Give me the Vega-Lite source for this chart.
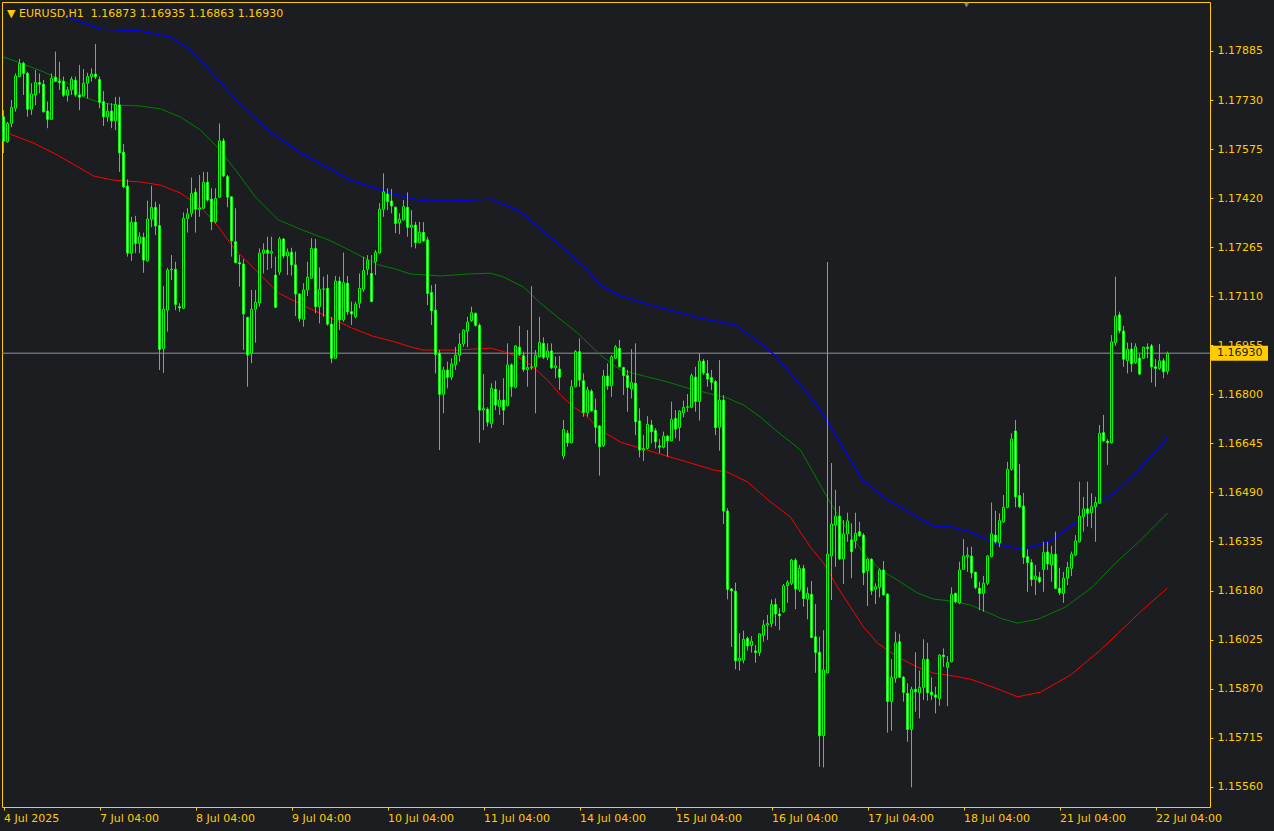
{
"$schema":"https://vega.github.io/schema/vega-lite/v6.json",
"width":1208,"height":805,
"autosize":{"type":"none"},
"padding":{"left":2,"top":2,"right":64,"bottom":24},
"background":"#1c1d21",
"title":{"text":"▼  EURUSD,H1\u00a0\u00a01.16873 1.16935 1.16863 1.16930","anchor":"start","frame":"group","orient":"top","offset":-17,"dx":5,"font":"DejaVu Sans","fontSize":11,"fontWeight":"normal","color":"#ffcc00"},
"config":{"view":{"stroke":"#ffcc00","strokeWidth":1},"axis":{"grid":false,"domain":false,"labelFont":"DejaVu Sans","labelFontSize":11,"labelColor":"#ffcc00","tickColor":"#ffcc00","tickSize":3,"labelOverlap":false,"labelBound":false,"labelFlush":false}},
"datasets":{
"bars":[
{"i":0,"o":1.17677,"h":1.17698,"l":1.17562,"c":1.17600},
{"i":1,"o":1.17598,"h":1.17661,"l":1.17595,"c":1.17656},
{"i":2,"o":1.17656,"h":1.17730,"l":1.17644,"c":1.17706},
{"i":3,"o":1.17704,"h":1.17814,"l":1.17693,"c":1.17806},
{"i":4,"o":1.17804,"h":1.17860,"l":1.17802,"c":1.17846},
{"i":5,"o":1.17846,"h":1.17851,"l":1.17746,"c":1.17814},
{"i":6,"o":1.17814,"h":1.17819,"l":1.17677,"c":1.17701},
{"i":7,"o":1.17701,"h":1.17783,"l":1.17683,"c":1.17749},
{"i":8,"o":1.17746,"h":1.17825,"l":1.17714,"c":1.17786},
{"i":9,"o":1.17785,"h":1.17814,"l":1.17751,"c":1.17780},
{"i":10,"o":1.17780,"h":1.17793,"l":1.17690,"c":1.17693},
{"i":11,"o":1.17695,"h":1.17725,"l":1.17641,"c":1.17669},
{"i":12,"o":1.17669,"h":1.17814,"l":1.17667,"c":1.17799},
{"i":13,"o":1.17802,"h":1.17883,"l":1.17788,"c":1.17789},
{"i":14,"o":1.17790,"h":1.17851,"l":1.17762,"c":1.17785},
{"i":15,"o":1.17789,"h":1.17804,"l":1.17740,"c":1.17745},
{"i":16,"o":1.17745,"h":1.17772,"l":1.17725,"c":1.17762},
{"i":17,"o":1.17762,"h":1.17804,"l":1.17746,"c":1.17796},
{"i":18,"o":1.17793,"h":1.17804,"l":1.17740,"c":1.17746},
{"i":19,"o":1.17746,"h":1.17841,"l":1.17698,"c":1.17739},
{"i":20,"o":1.17743,"h":1.17828,"l":1.17740,"c":1.17783},
{"i":21,"o":1.17783,"h":1.17816,"l":1.17735,"c":1.17804},
{"i":22,"o":1.17804,"h":1.17830,"l":1.17788,"c":1.17812},
{"i":23,"o":1.17812,"h":1.17907,"l":1.17796,"c":1.17803},
{"i":24,"o":1.17795,"h":1.17804,"l":1.17704,"c":1.17723},
{"i":25,"o":1.17725,"h":1.17758,"l":1.17648,"c":1.17677},
{"i":26,"o":1.17677,"h":1.17720,"l":1.17661,"c":1.17695},
{"i":27,"o":1.17695,"h":1.17720,"l":1.17641,"c":1.17664},
{"i":28,"o":1.17664,"h":1.17740,"l":1.17635,"c":1.17716},
{"i":29,"o":1.17714,"h":1.17740,"l":1.17503,"c":1.17563},
{"i":30,"o":1.17565,"h":1.17591,"l":1.17451,"c":1.17456},
{"i":31,"o":1.17458,"h":1.17479,"l":1.17235,"c":1.17246},
{"i":32,"o":1.17246,"h":1.17361,"l":1.17222,"c":1.17344},
{"i":33,"o":1.17344,"h":1.17364,"l":1.17246,"c":1.17277},
{"i":34,"o":1.17277,"h":1.17312,"l":1.17246,"c":1.17298},
{"i":35,"o":1.17296,"h":1.17311,"l":1.17184,"c":1.17224},
{"i":36,"o":1.17222,"h":1.17412,"l":1.17219,"c":1.17354},
{"i":37,"o":1.17353,"h":1.17459,"l":1.17328,"c":1.17391},
{"i":38,"o":1.17391,"h":1.17409,"l":1.17303,"c":1.17332},
{"i":39,"o":1.17333,"h":1.17401,"l":1.16877,"c":1.16942},
{"i":40,"o":1.16945,"h":1.17142,"l":1.16868,"c":1.17069},
{"i":41,"o":1.17066,"h":1.17200,"l":1.16998,"c":1.17193},
{"i":42,"o":1.17193,"h":1.17240,"l":1.17161,"c":1.17195},
{"i":43,"o":1.17195,"h":1.17219,"l":1.17066,"c":1.17084},
{"i":44,"o":1.17077,"h":1.17088,"l":1.17061,"c":1.17073},
{"i":45,"o":1.17072,"h":1.17375,"l":1.17070,"c":1.17356},
{"i":46,"o":1.17356,"h":1.17388,"l":1.17311,"c":1.17370},
{"i":47,"o":1.17372,"h":1.17485,"l":1.17361,"c":1.17435},
{"i":48,"o":1.17439,"h":1.17451,"l":1.17311,"c":1.17385},
{"i":49,"o":1.17385,"h":1.17493,"l":1.17361,"c":1.17389},
{"i":50,"o":1.17388,"h":1.17503,"l":1.17386,"c":1.17470},
{"i":51,"o":1.17470,"h":1.17503,"l":1.17409,"c":1.17414},
{"i":52,"o":1.17417,"h":1.17451,"l":1.17319,"c":1.17345},
{"i":53,"o":1.17345,"h":1.17451,"l":1.17340,"c":1.17419},
{"i":54,"o":1.17423,"h":1.17656,"l":1.17420,"c":1.17601},
{"i":55,"o":1.17601,"h":1.17609,"l":1.17486,"c":1.17490},
{"i":56,"o":1.17488,"h":1.17493,"l":1.17391,"c":1.17423},
{"i":57,"o":1.17424,"h":1.17426,"l":1.17235,"c":1.17285},
{"i":58,"o":1.17282,"h":1.17388,"l":1.17214,"c":1.17216},
{"i":59,"o":1.17216,"h":1.17240,"l":1.17140,"c":1.17212},
{"i":60,"o":1.17212,"h":1.17227,"l":1.16940,"c":1.17054},
{"i":61,"o":1.17043,"h":1.17045,"l":1.16824,"c":1.16924},
{"i":62,"o":1.16930,"h":1.17130,"l":1.16898,"c":1.17069},
{"i":63,"o":1.17069,"h":1.17130,"l":1.16963,"c":1.17091},
{"i":64,"o":1.17089,"h":1.17261,"l":1.17077,"c":1.17246},
{"i":65,"o":1.17246,"h":1.17277,"l":1.17182,"c":1.17256},
{"i":66,"o":1.17256,"h":1.17298,"l":1.17193,"c":1.17246},
{"i":67,"o":1.17246,"h":1.17298,"l":1.17198,"c":1.17251},
{"i":68,"o":1.17177,"h":1.17235,"l":1.17073,"c":1.17075},
{"i":69,"o":1.17186,"h":1.17298,"l":1.17177,"c":1.17291},
{"i":70,"o":1.17291,"h":1.17293,"l":1.17230,"c":1.17237},
{"i":71,"o":1.17237,"h":1.17261,"l":1.17177,"c":1.17250},
{"i":72,"o":1.17249,"h":1.17263,"l":1.17175,"c":1.17209},
{"i":73,"o":1.17209,"h":1.17251,"l":1.17047,"c":1.17117},
{"i":74,"o":1.17117,"h":1.17119,"l":1.17029,"c":1.17040},
{"i":75,"o":1.17037,"h":1.17151,"l":1.17014,"c":1.17130},
{"i":76,"o":1.17130,"h":1.17219,"l":1.17111,"c":1.17170},
{"i":77,"o":1.17167,"h":1.17293,"l":1.17164,"c":1.17261},
{"i":78,"o":1.17261,"h":1.17291,"l":1.17056,"c":1.17077},
{"i":79,"o":1.17077,"h":1.17201,"l":1.17024,"c":1.17132},
{"i":80,"o":1.17132,"h":1.17172,"l":1.17045,"c":1.17133},
{"i":81,"o":1.17135,"h":1.17179,"l":1.17017,"c":1.17022},
{"i":82,"o":1.17022,"h":1.17045,"l":1.16898,"c":1.16914},
{"i":83,"o":1.16914,"h":1.17174,"l":1.16912,"c":1.17158},
{"i":84,"o":1.17158,"h":1.17172,"l":1.17003,"c":1.17035},
{"i":85,"o":1.17035,"h":1.17248,"l":1.17029,"c":1.17153},
{"i":86,"o":1.17151,"h":1.17174,"l":1.17051,"c":1.17061},
{"i":87,"o":1.17061,"h":1.17093,"l":1.17019,"c":1.17054},
{"i":88,"o":1.17045,"h":1.17093,"l":1.17040,"c":1.17085},
{"i":89,"o":1.17088,"h":1.17182,"l":1.17072,"c":1.17135},
{"i":90,"o":1.17132,"h":1.17235,"l":1.17124,"c":1.17191},
{"i":91,"o":1.17195,"h":1.17240,"l":1.17177,"c":1.17224},
{"i":92,"o":1.17182,"h":1.17240,"l":1.17091,"c":1.17093},
{"i":93,"o":1.17219,"h":1.17256,"l":1.17177,"c":1.17249},
{"i":94,"o":1.17247,"h":1.17404,"l":1.17244,"c":1.17385},
{"i":95,"o":1.17385,"h":1.17498,"l":1.17361,"c":1.17440},
{"i":96,"o":1.17433,"h":1.17451,"l":1.17382,"c":1.17409},
{"i":97,"o":1.17411,"h":1.17449,"l":1.17372,"c":1.17395},
{"i":98,"o":1.17391,"h":1.17393,"l":1.17309,"c":1.17340},
{"i":99,"o":1.17342,"h":1.17372,"l":1.17306,"c":1.17353},
{"i":100,"o":1.17351,"h":1.17414,"l":1.17349,"c":1.17393},
{"i":101,"o":1.17391,"h":1.17438,"l":1.17298,"c":1.17328},
{"i":102,"o":1.17328,"h":1.17382,"l":1.17265,"c":1.17335},
{"i":103,"o":1.17335,"h":1.17345,"l":1.17261,"c":1.17279},
{"i":104,"o":1.17279,"h":1.17345,"l":1.17277,"c":1.17312},
{"i":105,"o":1.17312,"h":1.17344,"l":1.17282,"c":1.17285},
{"i":106,"o":1.17288,"h":1.17298,"l":1.17082,"c":1.17119},
{"i":107,"o":1.17122,"h":1.17145,"l":1.17019,"c":1.17064},
{"i":108,"o":1.17066,"h":1.17149,"l":1.16866,"c":1.16926},
{"i":109,"o":1.16930,"h":1.16940,"l":1.16624,"c":1.16800},
{"i":110,"o":1.16800,"h":1.16887,"l":1.16740,"c":1.16877},
{"i":111,"o":1.16877,"h":1.16903,"l":1.16819,"c":1.16854},
{"i":112,"o":1.16854,"h":1.16914,"l":1.16845,"c":1.16896},
{"i":113,"o":1.16893,"h":1.16950,"l":1.16877,"c":1.16924},
{"i":114,"o":1.16924,"h":1.16993,"l":1.16903,"c":1.16959},
{"i":115,"o":1.16959,"h":1.17005,"l":1.16950,"c":1.17003},
{"i":116,"o":1.17000,"h":1.17045,"l":1.16949,"c":1.17028},
{"i":117,"o":1.17033,"h":1.17077,"l":1.17029,"c":1.17058},
{"i":118,"o":1.17056,"h":1.17058,"l":1.17014,"c":1.17018},
{"i":119,"o":1.17018,"h":1.17024,"l":1.16647,"c":1.16750},
{"i":120,"o":1.16750,"h":1.16864,"l":1.16687,"c":1.16755},
{"i":121,"o":1.16753,"h":1.16759,"l":1.16698,"c":1.16712},
{"i":122,"o":1.16708,"h":1.16835,"l":1.16693,"c":1.16819},
{"i":123,"o":1.16816,"h":1.16843,"l":1.16750,"c":1.16766},
{"i":124,"o":1.16761,"h":1.16814,"l":1.16735,"c":1.16782},
{"i":125,"o":1.16782,"h":1.16851,"l":1.16703,"c":1.16750},
{"i":126,"o":1.16764,"h":1.16961,"l":1.16762,"c":1.16893},
{"i":127,"o":1.16893,"h":1.16898,"l":1.16792,"c":1.16824},
{"i":128,"o":1.16822,"h":1.16956,"l":1.16819,"c":1.16953},
{"i":129,"o":1.16949,"h":1.17016,"l":1.16921,"c":1.16926},
{"i":130,"o":1.16922,"h":1.16935,"l":1.16871,"c":1.16879},
{"i":131,"o":1.16879,"h":1.17003,"l":1.16824,"c":1.16885},
{"i":132,"o":1.16884,"h":1.17142,"l":1.16877,"c":1.16887},
{"i":133,"o":1.16887,"h":1.16940,"l":1.16740,"c":1.16924},
{"i":134,"o":1.16919,"h":1.17045,"l":1.16917,"c":1.16964},
{"i":135,"o":1.16961,"h":1.16980,"l":1.16911,"c":1.16917},
{"i":136,"o":1.16917,"h":1.16961,"l":1.16908,"c":1.16937},
{"i":137,"o":1.16937,"h":1.16961,"l":1.16880,"c":1.16884},
{"i":138,"o":1.16884,"h":1.16919,"l":1.16851,"c":1.16890},
{"i":139,"o":1.16880,"h":1.16921,"l":1.16814,"c":1.16854},
{"i":140,"o":1.16605,"h":1.16719,"l":1.16595,"c":1.16689},
{"i":141,"o":1.16677,"h":1.16687,"l":1.16634,"c":1.16647},
{"i":142,"o":1.16647,"h":1.16845,"l":1.16645,"c":1.16824},
{"i":143,"o":1.16824,"h":1.16940,"l":1.16822,"c":1.16935},
{"i":144,"o":1.16935,"h":1.16977,"l":1.16824,"c":1.16845},
{"i":145,"o":1.16843,"h":1.16866,"l":1.16729,"c":1.16742},
{"i":146,"o":1.16742,"h":1.16824,"l":1.16729,"c":1.16814},
{"i":147,"o":1.16810,"h":1.16816,"l":1.16745,"c":1.16748},
{"i":148,"o":1.16750,"h":1.16787,"l":1.16645,"c":1.16696},
{"i":149,"o":1.16700,"h":1.16703,"l":1.16543,"c":1.16634},
{"i":150,"o":1.16638,"h":1.16877,"l":1.16634,"c":1.16858},
{"i":151,"o":1.16858,"h":1.16898,"l":1.16814,"c":1.16827},
{"i":152,"o":1.16827,"h":1.16924,"l":1.16792,"c":1.16919},
{"i":153,"o":1.16914,"h":1.16956,"l":1.16911,"c":1.16950},
{"i":154,"o":1.16945,"h":1.16972,"l":1.16885,"c":1.16887},
{"i":155,"o":1.16885,"h":1.16887,"l":1.16798,"c":1.16859},
{"i":156,"o":1.16859,"h":1.16877,"l":1.16745,"c":1.16822},
{"i":157,"o":1.16817,"h":1.16943,"l":1.16787,"c":1.16837},
{"i":158,"o":1.16835,"h":1.16961,"l":1.16671,"c":1.16713},
{"i":159,"o":1.16716,"h":1.16756,"l":1.16601,"c":1.16624},
{"i":160,"o":1.16624,"h":1.16671,"l":1.16590,"c":1.16629},
{"i":161,"o":1.16629,"h":1.16731,"l":1.16626,"c":1.16705},
{"i":162,"o":1.16703,"h":1.16719,"l":1.16645,"c":1.16682},
{"i":163,"o":1.16685,"h":1.16693,"l":1.16629,"c":1.16650},
{"i":164,"o":1.16637,"h":1.16658,"l":1.16614,"c":1.16633},
{"i":165,"o":1.16633,"h":1.16682,"l":1.16629,"c":1.16668},
{"i":166,"o":1.16668,"h":1.16671,"l":1.16603,"c":1.16653},
{"i":167,"o":1.16653,"h":1.16777,"l":1.16651,"c":1.16721},
{"i":168,"o":1.16724,"h":1.16750,"l":1.16661,"c":1.16690},
{"i":169,"o":1.16695,"h":1.16750,"l":1.16653,"c":1.16747},
{"i":170,"o":1.16742,"h":1.16780,"l":1.16727,"c":1.16759},
{"i":171,"o":1.16759,"h":1.16801,"l":1.16745,"c":1.16761},
{"i":172,"o":1.16759,"h":1.16866,"l":1.16756,"c":1.16859},
{"i":173,"o":1.16854,"h":1.16887,"l":1.16745,"c":1.16777},
{"i":174,"o":1.16777,"h":1.16930,"l":1.16717,"c":1.16905},
{"i":175,"o":1.16905,"h":1.16912,"l":1.16861,"c":1.16868},
{"i":176,"o":1.16866,"h":1.16908,"l":1.16824,"c":1.16848},
{"i":177,"o":1.16853,"h":1.16877,"l":1.16814,"c":1.16838},
{"i":178,"o":1.16840,"h":1.16845,"l":1.16671,"c":1.16695},
{"i":179,"o":1.16696,"h":1.16908,"l":1.16622,"c":1.16782},
{"i":180,"o":1.16782,"h":1.16798,"l":1.16390,"c":1.16431},
{"i":181,"o":1.16431,"h":1.16440,"l":1.16152,"c":1.16184},
{"i":182,"o":1.16185,"h":1.16188,"l":1.16002,"c":1.16179},
{"i":183,"o":1.16178,"h":1.16205,"l":1.15931,"c":1.15958},
{"i":184,"o":1.15958,"h":1.16045,"l":1.15927,"c":1.15966},
{"i":185,"o":1.15960,"h":1.16053,"l":1.15950,"c":1.16026},
{"i":186,"o":1.16029,"h":1.16034,"l":1.15990,"c":1.16005},
{"i":187,"o":1.16006,"h":1.16036,"l":1.15984,"c":1.16020},
{"i":188,"o":1.15989,"h":1.16008,"l":1.15952,"c":1.15984},
{"i":189,"o":1.15984,"h":1.16045,"l":1.15973,"c":1.16043},
{"i":190,"o":1.16039,"h":1.16087,"l":1.16018,"c":1.16071},
{"i":191,"o":1.16071,"h":1.16103,"l":1.16024,"c":1.16076},
{"i":192,"o":1.16076,"h":1.16152,"l":1.16064,"c":1.16136},
{"i":193,"o":1.16136,"h":1.16155,"l":1.16068,"c":1.16106},
{"i":194,"o":1.16106,"h":1.16124,"l":1.16055,"c":1.16100},
{"i":195,"o":1.16113,"h":1.16201,"l":1.16110,"c":1.16195},
{"i":196,"o":1.16195,"h":1.16213,"l":1.16141,"c":1.16206},
{"i":197,"o":1.16203,"h":1.16280,"l":1.16197,"c":1.16276},
{"i":198,"o":1.16276,"h":1.16282,"l":1.16121,"c":1.16185},
{"i":199,"o":1.16182,"h":1.16261,"l":1.16176,"c":1.16250},
{"i":200,"o":1.16250,"h":1.16261,"l":1.16129,"c":1.16155},
{"i":201,"o":1.16153,"h":1.16190,"l":1.16089,"c":1.16171},
{"i":202,"o":1.16168,"h":1.16210,"l":1.16029,"c":1.16032},
{"i":203,"o":1.16034,"h":1.16137,"l":1.15920,"c":1.15984},
{"i":204,"o":1.15985,"h":1.16034,"l":1.15623,"c":1.15721},
{"i":205,"o":1.15721,"h":1.16055,"l":1.15621,"c":1.15929},
{"i":206,"o":1.15920,"h":1.17218,"l":1.15918,"c":1.16295},
{"i":207,"o":1.16289,"h":1.16583,"l":1.16150,"c":1.16390},
{"i":208,"o":1.16387,"h":1.16498,"l":1.16255,"c":1.16415},
{"i":209,"o":1.16415,"h":1.16447,"l":1.16276,"c":1.16280},
{"i":210,"o":1.16280,"h":1.16403,"l":1.16201,"c":1.16359},
{"i":211,"o":1.16359,"h":1.16426,"l":1.16334,"c":1.16400},
{"i":212,"o":1.16340,"h":1.16392,"l":1.16219,"c":1.16303},
{"i":213,"o":1.16337,"h":1.16426,"l":1.16313,"c":1.16361},
{"i":214,"o":1.16366,"h":1.16397,"l":1.16350,"c":1.16353},
{"i":215,"o":1.16355,"h":1.16361,"l":1.16197,"c":1.16236},
{"i":216,"o":1.16243,"h":1.16282,"l":1.16131,"c":1.16279},
{"i":217,"o":1.16279,"h":1.16282,"l":1.16166,"c":1.16179},
{"i":218,"o":1.16184,"h":1.16203,"l":1.16137,"c":1.16192},
{"i":219,"o":1.16190,"h":1.16250,"l":1.16158,"c":1.16245},
{"i":220,"o":1.16245,"h":1.16273,"l":1.16164,"c":1.16166},
{"i":221,"o":1.16169,"h":1.16171,"l":1.15731,"c":1.15829},
{"i":222,"o":1.15829,"h":1.15963,"l":1.15737,"c":1.15906},
{"i":223,"o":1.15903,"h":1.16050,"l":1.15889,"c":1.16015},
{"i":224,"o":1.16018,"h":1.16043,"l":1.15904,"c":1.15906},
{"i":225,"o":1.15906,"h":1.15910,"l":1.15829,"c":1.15858},
{"i":226,"o":1.15855,"h":1.15887,"l":1.15702,"c":1.15741},
{"i":227,"o":1.15741,"h":1.15876,"l":1.15558,"c":1.15868},
{"i":228,"o":1.15868,"h":1.15985,"l":1.15797,"c":1.15860},
{"i":229,"o":1.15857,"h":1.15927,"l":1.15776,"c":1.15874},
{"i":230,"o":1.15874,"h":1.16026,"l":1.15834,"c":1.15963},
{"i":231,"o":1.15963,"h":1.16015,"l":1.15832,"c":1.15857},
{"i":232,"o":1.15859,"h":1.15906,"l":1.15834,"c":1.15850},
{"i":233,"o":1.15850,"h":1.15876,"l":1.15792,"c":1.15843},
{"i":234,"o":1.15839,"h":1.15979,"l":1.15816,"c":1.15976},
{"i":235,"o":1.15976,"h":1.15997,"l":1.15939,"c":1.15971},
{"i":236,"o":1.15937,"h":1.15973,"l":1.15815,"c":1.15953},
{"i":237,"o":1.15955,"h":1.16190,"l":1.15953,"c":1.16168},
{"i":238,"o":1.16171,"h":1.16173,"l":1.16140,"c":1.16145},
{"i":239,"o":1.16141,"h":1.16271,"l":1.16137,"c":1.16245},
{"i":240,"o":1.16247,"h":1.16342,"l":1.16245,"c":1.16289},
{"i":241,"o":1.16287,"h":1.16317,"l":1.16239,"c":1.16292},
{"i":242,"o":1.16289,"h":1.16318,"l":1.16219,"c":1.16236},
{"i":243,"o":1.16238,"h":1.16239,"l":1.16184,"c":1.16190},
{"i":244,"o":1.16187,"h":1.16208,"l":1.16118,"c":1.16171},
{"i":245,"o":1.16171,"h":1.16226,"l":1.16113,"c":1.16203},
{"i":246,"o":1.16203,"h":1.16292,"l":1.16197,"c":1.16289},
{"i":247,"o":1.16287,"h":1.16458,"l":1.16285,"c":1.16359},
{"i":248,"o":1.16355,"h":1.16432,"l":1.16329,"c":1.16334},
{"i":249,"o":1.16331,"h":1.16424,"l":1.16317,"c":1.16401},
{"i":250,"o":1.16397,"h":1.16482,"l":1.16394,"c":1.16443},
{"i":251,"o":1.16443,"h":1.16587,"l":1.16440,"c":1.16563},
{"i":252,"o":1.16563,"h":1.16677,"l":1.16559,"c":1.16659},
{"i":253,"o":1.16684,"h":1.16719,"l":1.16443,"c":1.16476},
{"i":254,"o":1.16480,"h":1.16580,"l":1.16440,"c":1.16445},
{"i":255,"o":1.16447,"h":1.16489,"l":1.16264,"c":1.16285},
{"i":256,"o":1.16287,"h":1.16310,"l":1.16176,"c":1.16268},
{"i":257,"o":1.16268,"h":1.16279,"l":1.16194,"c":1.16215},
{"i":258,"o":1.16215,"h":1.16261,"l":1.16166,"c":1.16226},
{"i":259,"o":1.16222,"h":1.16239,"l":1.16203,"c":1.16208},
{"i":260,"o":1.16247,"h":1.16334,"l":1.16176,"c":1.16300},
{"i":261,"o":1.16302,"h":1.16334,"l":1.16245,"c":1.16264},
{"i":262,"o":1.16261,"h":1.16321,"l":1.16208,"c":1.16295},
{"i":263,"o":1.16295,"h":1.16366,"l":1.16184,"c":1.16187},
{"i":264,"o":1.16187,"h":1.16252,"l":1.16166,"c":1.16173},
{"i":265,"o":1.16171,"h":1.16239,"l":1.16141,"c":1.16219},
{"i":266,"o":1.16219,"h":1.16271,"l":1.16197,"c":1.16253},
{"i":267,"o":1.16250,"h":1.16303,"l":1.16226,"c":1.16295},
{"i":268,"o":1.16292,"h":1.16355,"l":1.16289,"c":1.16337},
{"i":269,"o":1.16334,"h":1.16524,"l":1.16332,"c":1.16415},
{"i":270,"o":1.16413,"h":1.16476,"l":1.16366,"c":1.16438},
{"i":271,"o":1.16438,"h":1.16524,"l":1.16382,"c":1.16424},
{"i":272,"o":1.16426,"h":1.16487,"l":1.16377,"c":1.16445},
{"i":273,"o":1.16445,"h":1.16476,"l":1.16334,"c":1.16458},
{"i":274,"o":1.16456,"h":1.16703,"l":1.16454,"c":1.16677},
{"i":275,"o":1.16679,"h":1.16735,"l":1.16650,"c":1.16653},
{"i":276,"o":1.16652,"h":1.16658,"l":1.16577,"c":1.16647},
{"i":277,"o":1.16647,"h":1.16987,"l":1.16645,"c":1.16966},
{"i":278,"o":1.16963,"h":1.17172,"l":1.16953,"c":1.17047},
{"i":279,"o":1.17051,"h":1.17061,"l":1.16993,"c":1.17001},
{"i":280,"o":1.17000,"h":1.17016,"l":1.16887,"c":1.16911},
{"i":281,"o":1.16906,"h":1.16963,"l":1.16866,"c":1.16943},
{"i":282,"o":1.16943,"h":1.16963,"l":1.16871,"c":1.16896},
{"i":283,"o":1.16900,"h":1.16961,"l":1.16896,"c":1.16950},
{"i":284,"o":1.16914,"h":1.16927,"l":1.16861,"c":1.16864},
{"i":285,"o":1.16914,"h":1.16950,"l":1.16912,"c":1.16949},
{"i":286,"o":1.16949,"h":1.16961,"l":1.16914,"c":1.16945},
{"i":287,"o":1.16953,"h":1.16959,"l":1.16837,"c":1.16887},
{"i":288,"o":1.16887,"h":1.16911,"l":1.16824,"c":1.16882},
{"i":289,"o":1.16882,"h":1.16959,"l":1.16877,"c":1.16906},
{"i":290,"o":1.16906,"h":1.16914,"l":1.16851,"c":1.16871},
{"i":291,"o":1.16873,"h":1.16935,"l":1.16863,"c":1.16930}
],
"blue":[
{"i":15.5,"p":1.17995},{"i":24.25,"p":1.17954},{"i":34.25,"p":1.17948},{"i":41.75,"p":1.17929},{"i":46.75,"p":1.17888},{"i":49.25,"p":1.17856},{"i":57.5,"p":1.17739},{"i":66,"p":1.17635},{"i":74.25,"p":1.17563},{"i":86.75,"p":1.17477},{"i":96.75,"p":1.17436},{"i":104.75,"p":1.17411},{"i":113.5,"p":1.17411},{"i":121.75,"p":1.17417},{"i":128.5,"p":1.17382},{"i":131.75,"p":1.17351},{"i":135,"p":1.17313},{"i":138.5,"p":1.17278},{"i":141.75,"p":1.17240},{"i":145.5,"p":1.17199},{"i":149.25,"p":1.17145},{"i":154.25,"p":1.17111},{"i":161.75,"p":1.17082},{"i":174.25,"p":1.17041},{"i":183,"p":1.17019},{"i":189.25,"p":1.16962},{"i":193,"p":1.16921},{"i":199.25,"p":1.16829},{"i":204.25,"p":1.16750},{"i":211.75,"p":1.16592},{"i":214.75,"p":1.16529},{"i":221,"p":1.16466},{"i":226.75,"p":1.16425},{"i":232.5,"p":1.16384},{"i":236,"p":1.16384},{"i":241.75,"p":1.16365},{"i":248.75,"p":1.16324},{"i":254.75,"p":1.16311},{"i":261.25,"p":1.16333},{"i":268,"p":1.16393},{"i":273.75,"p":1.16456},{"i":278,"p":1.16491},{"i":283.75,"p":1.16561},{"i":291,"p":1.16662}
],
"green":[
{"i":0,"p":1.17866},{"i":4.25,"p":1.17847},{"i":10,"p":1.17819},{"i":16,"p":1.17784},{"i":20,"p":1.17740},{"i":24.25,"p":1.17721},{"i":28.5,"p":1.17714},{"i":34.25,"p":1.17711},{"i":39.25,"p":1.17702},{"i":44.25,"p":1.17676},{"i":49.25,"p":1.17635},{"i":53.5,"p":1.17581},{"i":58,"p":1.17509},{"i":63,"p":1.17423},{"i":68.75,"p":1.17351},{"i":74.75,"p":1.17319},{"i":81.25,"p":1.17288},{"i":85.5,"p":1.17262},{"i":89.75,"p":1.17234},{"i":93.75,"p":1.17209},{"i":98,"p":1.17196},{"i":101.75,"p":1.17180},{"i":109.25,"p":1.17174},{"i":116,"p":1.17180},{"i":121.75,"p":1.17183},{"i":125,"p":1.17171},{"i":130,"p":1.17139},{"i":134.25,"p":1.17088},{"i":138.5,"p":1.17044},{"i":143.5,"p":1.16994},{"i":149.25,"p":1.16924},{"i":154.25,"p":1.16877},{"i":161,"p":1.16855},{"i":166,"p":1.16839},{"i":171,"p":1.16820},{"i":176,"p":1.16804},{"i":181,"p":1.16788},{"i":185,"p":1.16766},{"i":189.25,"p":1.16728},{"i":193,"p":1.16687},{"i":199.25,"p":1.16624},{"i":203.5,"p":1.16529},{"i":206.75,"p":1.16457},{"i":211,"p":1.16371},{"i":215,"p":1.16298},{"i":219.25,"p":1.16245},{"i":223.5,"p":1.16213},{"i":228.5,"p":1.16172},{"i":232.5,"p":1.16153},{"i":237.5,"p":1.16146},{"i":241.75,"p":1.16134},{"i":244.75,"p":1.16118},{"i":249.75,"p":1.16090},{"i":253.5,"p":1.16077},{"i":258.75,"p":1.16090},{"i":265.5,"p":1.16128},{"i":272.25,"p":1.16191},{"i":278,"p":1.16267},{"i":283.75,"p":1.16333},{"i":291,"p":1.16425}
],
"red":[
{"i":1.5,"p":1.17623},{"i":7.5,"p":1.17594},{"i":13.5,"p":1.17556},{"i":22.5,"p":1.17490},{"i":27.5,"p":1.17477},{"i":34.25,"p":1.17471},{"i":39.25,"p":1.17461},{"i":44.25,"p":1.17436},{"i":49.25,"p":1.17392},{"i":53,"p":1.17341},{"i":58,"p":1.17256},{"i":63,"p":1.17193},{"i":68.75,"p":1.17120},{"i":74.75,"p":1.17082},{"i":81.25,"p":1.17044},{"i":87.25,"p":1.17009},{"i":92.25,"p":1.16984},{"i":98,"p":1.16965},{"i":101.75,"p":1.16950},{"i":105,"p":1.16940},{"i":113.5,"p":1.16940},{"i":121.75,"p":1.16946},{"i":125,"p":1.16935},{"i":128.5,"p":1.16919},{"i":131.75,"p":1.16893},{"i":136,"p":1.16845},{"i":139.25,"p":1.16798},{"i":142.5,"p":1.16760},{"i":145.5,"p":1.16735},{"i":149.25,"p":1.16687},{"i":154.25,"p":1.16649},{"i":159.25,"p":1.16630},{"i":165,"p":1.16608},{"i":171,"p":1.16586},{"i":177.5,"p":1.16561},{"i":181,"p":1.16554},{"i":186,"p":1.16523},{"i":191.75,"p":1.16460},{"i":196.75,"p":1.16412},{"i":201.75,"p":1.16317},{"i":205,"p":1.16267},{"i":208.5,"p":1.16191},{"i":211.75,"p":1.16128},{"i":215,"p":1.16065},{"i":218.5,"p":1.16014},{"i":223.5,"p":1.15970},{"i":228.5,"p":1.15938},{"i":232.5,"p":1.15919},{"i":237.5,"p":1.15910},{"i":241.75,"p":1.15900},{"i":249.25,"p":1.15866},{"i":253.5,"p":1.15844},{"i":259.25,"p":1.15859},{"i":266.75,"p":1.15913},{"i":274.25,"p":1.15992},{"i":284.25,"p":1.16113},{"i":291,"p":1.16188}
],
"last":[{"price":1.1693,"label":"1.16930"}],
"shift":[{"bar":240.75,"price":1.1803}]
},
"layer":[
{"data":{"name":"last"},"mark":{"type":"rule","color":"#8d949c","strokeWidth":1},
 "encoding":{"y":{"field":"price","type":"quantitative","scale":{"domain":[1.15496,1.180397],"nice":false,"zero":false,"padding":0},
   "axis":{"orient":"right","title":null,"values":[1.1556,1.15715,1.1587,1.16025,1.1618,1.16335,1.1649,1.16645,1.168,1.16955,1.1711,1.17265,1.1742,1.17575,1.1773,1.17885],"format":".5f","labelPadding":4}}}},
{"data":{"name":"blue"},"mark":{"type":"line","color":"#0000ff","strokeWidth":1.3},
 "encoding":{"x":{"field":"i","type":"quantitative","scale":{"domain":[-0.375,301.625],"nice":false,"zero":false,"padding":0},
   "axis":{"orient":"bottom","title":null,"values":[0,24,48,72,96,120,144,168,192,216,240,264,288],"labelAlign":"left","labelDx":-1,"labelPadding":2,"labelExpr":"['4 Jul 2025','7 Jul 04:00','8 Jul 04:00','9 Jul 04:00','10 Jul 04:00','11 Jul 04:00','14 Jul 04:00','15 Jul 04:00','16 Jul 04:00','17 Jul 04:00','18 Jul 04:00','21 Jul 04:00','22 Jul 04:00'][round(datum.value/24)]"}},
 "y":{"field":"p","type":"quantitative","scale":{"domain":[1.15496,1.180397],"nice":false,"zero":false,"padding":0},
   "axis":{"orient":"right","title":null,"values":[1.1556,1.15715,1.1587,1.16025,1.1618,1.16335,1.1649,1.16645,1.168,1.16955,1.1711,1.17265,1.1742,1.17575,1.1773,1.17885],"format":".5f","labelPadding":4}}}},
{"data":{"name":"green"},"mark":{"type":"line","color":"#008000","strokeWidth":1},
 "encoding":{"x":{"field":"i","type":"quantitative","scale":{"domain":[-0.375,301.625],"nice":false,"zero":false,"padding":0},
   "axis":{"orient":"bottom","title":null,"values":[0,24,48,72,96,120,144,168,192,216,240,264,288],"labelAlign":"left","labelDx":-1,"labelPadding":2,"labelExpr":"['4 Jul 2025','7 Jul 04:00','8 Jul 04:00','9 Jul 04:00','10 Jul 04:00','11 Jul 04:00','14 Jul 04:00','15 Jul 04:00','16 Jul 04:00','17 Jul 04:00','18 Jul 04:00','21 Jul 04:00','22 Jul 04:00'][round(datum.value/24)]"}},
 "y":{"field":"p","type":"quantitative","scale":{"domain":[1.15496,1.180397],"nice":false,"zero":false,"padding":0},
   "axis":{"orient":"right","title":null,"values":[1.1556,1.15715,1.1587,1.16025,1.1618,1.16335,1.1649,1.16645,1.168,1.16955,1.1711,1.17265,1.1742,1.17575,1.1773,1.17885],"format":".5f","labelPadding":4}}}},
{"data":{"name":"red"},"mark":{"type":"line","color":"#ff0000","strokeWidth":1},
 "encoding":{"x":{"field":"i","type":"quantitative","scale":{"domain":[-0.375,301.625],"nice":false,"zero":false,"padding":0},
   "axis":{"orient":"bottom","title":null,"values":[0,24,48,72,96,120,144,168,192,216,240,264,288],"labelAlign":"left","labelDx":-1,"labelPadding":2,"labelExpr":"['4 Jul 2025','7 Jul 04:00','8 Jul 04:00','9 Jul 04:00','10 Jul 04:00','11 Jul 04:00','14 Jul 04:00','15 Jul 04:00','16 Jul 04:00','17 Jul 04:00','18 Jul 04:00','21 Jul 04:00','22 Jul 04:00'][round(datum.value/24)]"}},
 "y":{"field":"p","type":"quantitative","scale":{"domain":[1.15496,1.180397],"nice":false,"zero":false,"padding":0},
   "axis":{"orient":"right","title":null,"values":[1.1556,1.15715,1.1587,1.16025,1.1618,1.16335,1.1649,1.16645,1.168,1.16955,1.1711,1.17265,1.1742,1.17575,1.1773,1.17885],"format":".5f","labelPadding":4}}}},
{"data":{"name":"bars"},"mark":{"type":"rule","color":"#00ff00","strokeWidth":1},
 "encoding":{"x":{"field":"i","type":"quantitative","scale":{"domain":[-0.375,301.625],"nice":false,"zero":false,"padding":0},
   "axis":{"orient":"bottom","title":null,"values":[0,24,48,72,96,120,144,168,192,216,240,264,288],"labelAlign":"left","labelDx":-1,"labelPadding":2,"labelExpr":"['4 Jul 2025','7 Jul 04:00','8 Jul 04:00','9 Jul 04:00','10 Jul 04:00','11 Jul 04:00','14 Jul 04:00','15 Jul 04:00','16 Jul 04:00','17 Jul 04:00','18 Jul 04:00','21 Jul 04:00','22 Jul 04:00'][round(datum.value/24)]"}},
 "y":{"field":"l","type":"quantitative","scale":{"domain":[1.15496,1.180397],"nice":false,"zero":false,"padding":0},
   "axis":{"orient":"right","title":null,"values":[1.1556,1.15715,1.1587,1.16025,1.1618,1.16335,1.1649,1.16645,1.168,1.16955,1.1711,1.17265,1.1742,1.17575,1.1773,1.17885],"format":".5f","labelPadding":4}},
 "y2":{"field":"h"}}},
{"data":{"name":"bars"},"mark":{"type":"bar","size":2,"stroke":"#00ff00","strokeWidth":1},
 "encoding":{"x":{"field":"i","type":"quantitative","scale":{"domain":[-0.375,301.625],"nice":false,"zero":false,"padding":0},
   "axis":{"orient":"bottom","title":null,"values":[0,24,48,72,96,120,144,168,192,216,240,264,288],"labelAlign":"left","labelDx":-1,"labelPadding":2,"labelExpr":"['4 Jul 2025','7 Jul 04:00','8 Jul 04:00','9 Jul 04:00','10 Jul 04:00','11 Jul 04:00','14 Jul 04:00','15 Jul 04:00','16 Jul 04:00','17 Jul 04:00','18 Jul 04:00','21 Jul 04:00','22 Jul 04:00'][round(datum.value/24)]"}},
 "y":{"field":"o","type":"quantitative","scale":{"domain":[1.15496,1.180397],"nice":false,"zero":false,"padding":0},
   "axis":{"orient":"right","title":null,"values":[1.1556,1.15715,1.1587,1.16025,1.1618,1.16335,1.1649,1.16645,1.168,1.16955,1.1711,1.17265,1.1742,1.17575,1.1773,1.17885],"format":".5f","labelPadding":4}},
 "y2":{"field":"c"},
 "fill":{"condition":{"test":"datum.c >= datum.o","value":"#1c1d21"},"value":"#ffffff"}}},
{"data":{"name":"last"},"mark":{"type":"rule","color":"#ffcc00","strokeWidth":15,"strokeCap":"butt","clip":false},
 "encoding":{"x":{"datum":301.875,"type":"quantitative","scale":{"domain":[-0.375,301.625],"nice":false,"zero":false,"padding":0},
   "axis":{"orient":"bottom","title":null,"values":[0,24,48,72,96,120,144,168,192,216,240,264,288],"labelAlign":"left","labelDx":-1,"labelPadding":2,"labelExpr":"['4 Jul 2025','7 Jul 04:00','8 Jul 04:00','9 Jul 04:00','10 Jul 04:00','11 Jul 04:00','14 Jul 04:00','15 Jul 04:00','16 Jul 04:00','17 Jul 04:00','18 Jul 04:00','21 Jul 04:00','22 Jul 04:00'][round(datum.value/24)]"}},
 "x2":{"datum":316.125},
 "y":{"field":"price","type":"quantitative","scale":{"domain":[1.15496,1.180397],"nice":false,"zero":false,"padding":0},
   "axis":{"orient":"right","title":null,"values":[1.1556,1.15715,1.1587,1.16025,1.1618,1.16335,1.1649,1.16645,1.168,1.16955,1.1711,1.17265,1.1742,1.17575,1.1773,1.17885],"format":".5f","labelPadding":4}}}},
{"data":{"name":"last"},"mark":{"type":"text","align":"left","baseline":"middle","font":"DejaVu Sans","fontSize":11,"color":"#1c1d21","clip":false},
 "encoding":{"x":{"datum":303.375,"type":"quantitative","scale":{"domain":[-0.375,301.625],"nice":false,"zero":false,"padding":0},
   "axis":{"orient":"bottom","title":null,"values":[0,24,48,72,96,120,144,168,192,216,240,264,288],"labelAlign":"left","labelDx":-1,"labelPadding":2,"labelExpr":"['4 Jul 2025','7 Jul 04:00','8 Jul 04:00','9 Jul 04:00','10 Jul 04:00','11 Jul 04:00','14 Jul 04:00','15 Jul 04:00','16 Jul 04:00','17 Jul 04:00','18 Jul 04:00','21 Jul 04:00','22 Jul 04:00'][round(datum.value/24)]"}},
 "y":{"field":"price","type":"quantitative","scale":{"domain":[1.15496,1.180397],"nice":false,"zero":false,"padding":0},
   "axis":{"orient":"right","title":null,"values":[1.1556,1.15715,1.1587,1.16025,1.1618,1.16335,1.1649,1.16645,1.168,1.16955,1.1711,1.17265,1.1742,1.17575,1.1773,1.17885],"format":".5f","labelPadding":4}},
 "text":{"field":"label"}}},
{"data":{"name":"shift"},"mark":{"type":"point","shape":"triangle-down","filled":true,"size":30,"color":"#85827a","opacity":1},
 "encoding":{"x":{"field":"bar","type":"quantitative","scale":{"domain":[-0.375,301.625],"nice":false,"zero":false,"padding":0},
   "axis":{"orient":"bottom","title":null,"values":[0,24,48,72,96,120,144,168,192,216,240,264,288],"labelAlign":"left","labelDx":-1,"labelPadding":2,"labelExpr":"['4 Jul 2025','7 Jul 04:00','8 Jul 04:00','9 Jul 04:00','10 Jul 04:00','11 Jul 04:00','14 Jul 04:00','15 Jul 04:00','16 Jul 04:00','17 Jul 04:00','18 Jul 04:00','21 Jul 04:00','22 Jul 04:00'][round(datum.value/24)]"}},
 "y":{"field":"price","type":"quantitative","scale":{"domain":[1.15496,1.180397],"nice":false,"zero":false,"padding":0},
   "axis":{"orient":"right","title":null,"values":[1.1556,1.15715,1.1587,1.16025,1.1618,1.16335,1.1649,1.16645,1.168,1.16955,1.1711,1.17265,1.1742,1.17575,1.1773,1.17885],"format":".5f","labelPadding":4}}}}
]
}
